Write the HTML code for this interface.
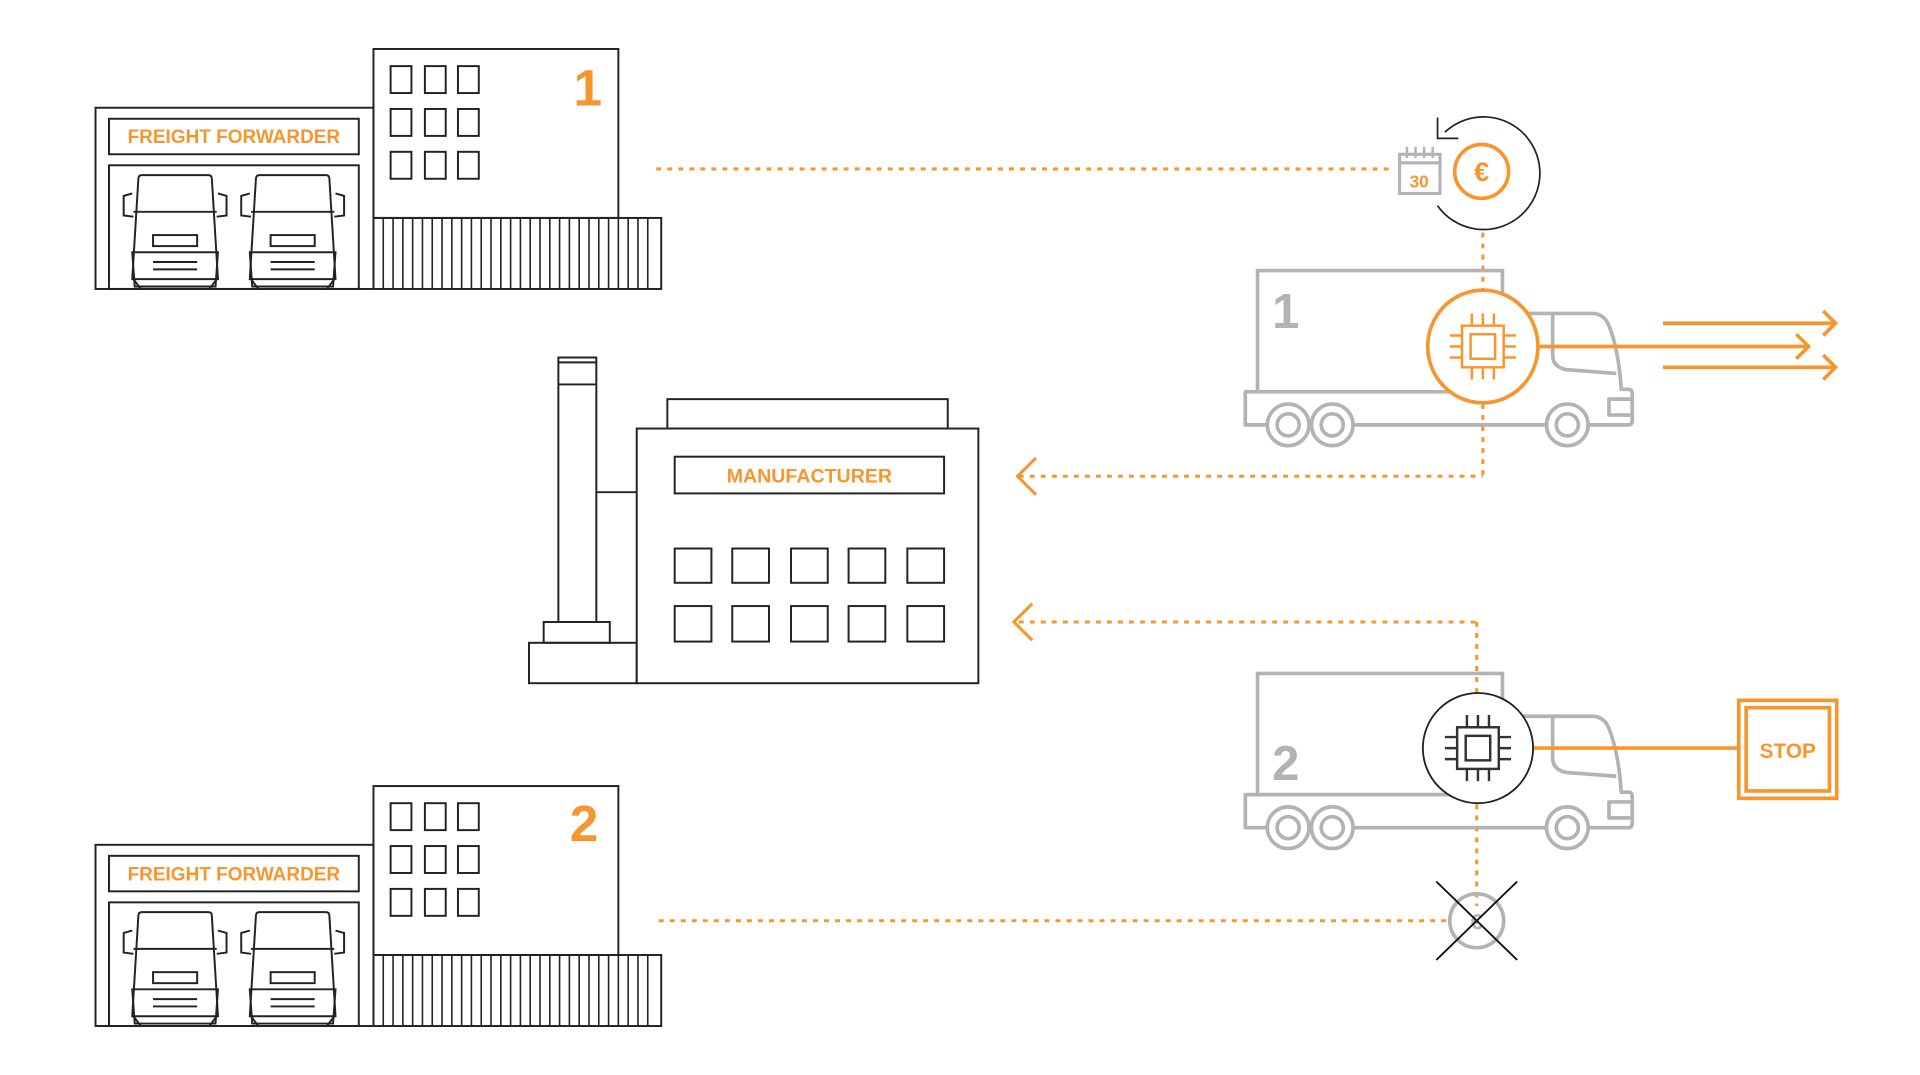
<!DOCTYPE html>
<html><head><meta charset="utf-8"><style>
html,body{margin:0;padding:0;background:#fff;width:1920px;height:1075px;overflow:hidden}
svg{display:block}
text{font-family:"Liberation Sans",sans-serif;font-weight:bold}
</style></head><body>
<svg width="1920" height="1075" viewBox="0 0 1568 878" preserveAspectRatio="none" xmlns="http://www.w3.org/2000/svg">
<defs>
<g id="cab" fill="none" stroke="#222" stroke-width="1.6">
  <path d="M-30 0 Q-30 -3 -27 -3 L27 -3 Q30 -3 30 0 L35 82 L-35 82 Z" fill="#fff"/>
  <path d="M-35 12 L-42 14 L-42 30 L-34 31"/><path d="M35 12 L42 14 L42 30 L34 31"/>
  <line x1="-34" y1="27" x2="34" y2="27"/>
  <rect x="-18" y="46" width="36" height="9"/>
  <path d="M-35 60 L35 60 L33 88 L-33 88 Z"/>
  <line x1="-18" y1="68" x2="18" y2="68"/><line x1="-18" y1="74" x2="18" y2="74"/>
  <line x1="-34" y1="82" x2="-28" y2="90"/><line x1="34" y1="82" x2="28" y2="90"/>
</g>
<g id="ff">
  <g fill="none" stroke="#222" stroke-width="1.6">
    <rect x="78" y="88" width="227" height="148"/>
    <rect x="89" y="97" width="204" height="29"/>
    <rect x="89" y="135" width="204" height="101"/>
    <rect x="305" y="40" width="200" height="138"/>
    <rect x="305" y="178" width="235" height="58"/>
    <g>
      <rect x="319" y="54" width="17" height="22"/><rect x="347" y="54" width="17" height="22"/><rect x="374" y="54" width="17" height="22"/>
      <rect x="319" y="89" width="17" height="22"/><rect x="347" y="89" width="17" height="22"/><rect x="374" y="89" width="17" height="22"/>
      <rect x="319" y="124" width="17" height="22"/><rect x="347" y="124" width="17" height="22"/><rect x="374" y="124" width="17" height="22"/>
    </g>
    <path d="M313 178V236M321 178V236M329 178V236M337 178V236M345 178V236M353 178V236M361 178V236M369 178V236M377 178V236M385 178V236M393 178V236M401 178V236M409 178V236M417 178V236M425 178V236M433 178V236M441 178V236M449 178V236M457 178V236M465 178V236M473 178V236M481 178V236M489 178V236M497 178V236M505 178V236M513 178V236M521 178V236M529 178V236" stroke-width="1.3"/>
  </g>
  <use href="#cab" x="143" y="146"/>
  <use href="#cab" x="239" y="146"/>
  <text x="191" y="117" font-size="15.5" fill="#f7962f" text-anchor="middle">FREIGHT FORWARDER</text>
</g>
<g id="truck" fill="none" stroke="#b3b3b3" stroke-width="3" stroke-linejoin="round">
  <path d="M1027 320 V221 H1227 V320"/>
  <path d="M1227 256 H1300 Q1310 256 1314 266 Q1322 286 1324 318 H1330 Q1333 318 1333 322 V343 Q1333 347 1330 347 H1297"/>
  <path d="M1264 347 H1105 M1070 347 H1069 M1035 347 H1017 V320 H1227"/>
  <path d="M1268 256 V290 Q1268 300 1280 302 L1320 305"/>
  <rect x="1314" y="326" width="19" height="13"/>
  <circle cx="1052" cy="347" r="17" fill="#fff"/><circle cx="1052" cy="347" r="9"/>
  <circle cx="1088" cy="347" r="17" fill="#fff"/><circle cx="1088" cy="347" r="9"/>
  <circle cx="1280" cy="347" r="17" fill="#fff"/><circle cx="1280" cy="347" r="9"/>
</g>
<g id="chip" fill="none" stroke-width="2">
  <rect x="-17" y="-17" width="34" height="34"/><rect x="-10" y="-10" width="20" height="20"/>
  <path d="M-9 -17V-27M0 -17V-27M9 -17V-27M-9 17V27M0 17V27M9 17V27M-17 -9H-27M-17 0H-27M-17 9H-27M17 -9H27M17 0H27M17 9H27"/>
</g>
</defs>

<use href="#ff"/>
<use href="#ff" y="602"/>
<text x="480" y="86" font-size="42" fill="#f7962f" text-anchor="middle">1</text>
<text x="477" y="687" font-size="42" fill="#f7962f" text-anchor="middle">2</text>

<!-- manufacturer -->
<g fill="none" stroke="#222" stroke-width="1.6">
  <rect x="456" y="292" width="31" height="216"/>
  <line x1="456" y1="314" x2="487" y2="314"/><line x1="456" y1="296" x2="487" y2="296"/>
  <rect x="444" y="508" width="54" height="17"/>
  <rect x="432" y="525" width="88" height="33"/>
  <line x1="487" y1="402" x2="520" y2="402"/>
  <rect x="545" y="326" width="229" height="24"/>
  <rect x="520" y="350" width="279" height="208" fill="#fff"/>
  <rect x="551" y="373" width="220" height="30"/>
  <g>
    <rect x="551" y="448" width="30" height="28"/><rect x="598" y="448" width="30" height="28"/><rect x="646" y="448" width="30" height="28"/><rect x="693" y="448" width="30" height="28"/><rect x="741" y="448" width="30" height="28"/>
    <rect x="551" y="495" width="30" height="29"/><rect x="598" y="495" width="30" height="29"/><rect x="646" y="495" width="30" height="29"/><rect x="693" y="495" width="30" height="29"/><rect x="741" y="495" width="30" height="29"/>
  </g>
</g>
<text x="661" y="394" font-size="16" fill="#f7962f" text-anchor="middle">MANUFACTURER</text>

<!-- dotted connectors -->
<g fill="none" stroke="#f7962f" stroke-width="2.5" stroke-dasharray="4 5">
  <line x1="536" y1="138" x2="1138" y2="138"/>
  <line x1="1211" y1="190" x2="1211" y2="238"/>
  <line x1="1211" y1="330" x2="1211" y2="389"/>
  <line x1="832" y1="389" x2="1211" y2="389"/>
  <line x1="832" y1="508" x2="1206" y2="508"/>
  <line x1="1206" y1="508" x2="1206" y2="566"/>
  <line x1="1206" y1="657" x2="1206" y2="740"/>
  <line x1="538" y1="752" x2="1182" y2="752"/>
</g>
<g fill="none" stroke="#f7962f" stroke-width="2.5">
  <path d="M846 374 L831 389 L846 404"/>
  <path d="M843 493 L828 508 L843 523"/>
</g>

<!-- truck 1 -->
<use href="#truck"/>
<text x="1050" y="268" font-size="40" fill="#b3b3b3" text-anchor="middle">1</text>
<ellipse cx="1211" cy="283" rx="45" ry="46" fill="#fff" stroke="#f7962f" stroke-width="3"/>
<use href="#chip" x="1211" y="283" stroke="#f7962f"/>
<g fill="none" stroke="#f7962f" stroke-width="3">
  <line x1="1256" y1="283" x2="1477" y2="283"/><path d="M1467 273 L1477 283 L1467 293"/>
  <line x1="1358" y1="264" x2="1499" y2="264"/><path d="M1489 254 L1499 264 L1489 274"/>
  <line x1="1358" y1="300" x2="1499" y2="300"/><path d="M1489 290 L1499 300 L1489 310"/>
</g>
<!-- calendar + euro -->
<g fill="none" stroke="#b3b3b3" stroke-width="2.5">
  <rect x="1143" y="126" width="33" height="32"/>
  <line x1="1143" y1="133" x2="1176" y2="133"/>
  <path d="M1149 120V129M1156 120V129M1163 120V129M1170 120V129" stroke-width="2"/>
</g>
<text x="1159" y="153" font-size="14" fill="#f7962f" text-anchor="middle">30</text>
<circle cx="1210" cy="140" r="22" fill="none" stroke="#f7962f" stroke-width="3"/>
<text x="1210" y="148" font-size="22" fill="#f7962f" text-anchor="middle">€</text>
<path d="M1180 108 A46 46 0 1 1 1174 168" fill="none" stroke="#222" stroke-width="1.4"/>
<path d="M1174 96 L1174 113 L1191 113" fill="none" stroke="#222" stroke-width="1.4"/>

<!-- truck 2 -->
<use href="#truck" y="329"/>
<text x="1050" y="637" font-size="40" fill="#b3b3b3" text-anchor="middle">2</text>
<line x1="1252" y1="611" x2="1420" y2="611" stroke="#f7962f" stroke-width="3"/>
<circle cx="1207" cy="611" r="45" fill="#fff" stroke="#222" stroke-width="1.5"/>
<use href="#chip" x="1207" y="611" stroke="#333" stroke-width="1.5"/>
<rect x="1420" y="572" width="80" height="80" fill="#fff" stroke="#f7962f" stroke-width="3"/>
<rect x="1426" y="578" width="68" height="68" fill="none" stroke="#f7962f" stroke-width="3"/>
<text x="1460" y="619" font-size="17" fill="#f7962f" text-anchor="middle">STOP</text>
<circle cx="1206" cy="752" r="22" fill="none" stroke="#b3b3b3" stroke-width="3"/>
<text x="1206" y="759" font-size="18" fill="#b3b3b3" text-anchor="middle">€</text>
<g stroke="#111" stroke-width="1.5"><line x1="1173" y1="720" x2="1239" y2="784"/><line x1="1239" y1="720" x2="1173" y2="784"/></g>
</svg>
</body></html>
